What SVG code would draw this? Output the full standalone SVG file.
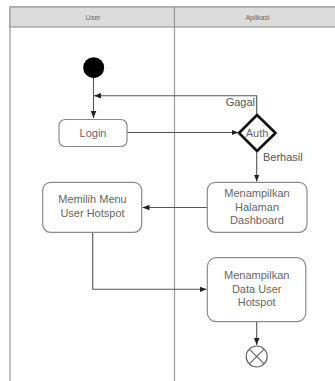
<svg xmlns="http://www.w3.org/2000/svg" width="335" height="381" viewBox="0 0 335 381">
<defs>
<marker id="ah" viewBox="0 0 10 10" refX="10" refY="5" markerWidth="7" markerHeight="7" orient="auto" markerUnits="userSpaceOnUse">
<path d="M0,1 L10,5 L0,9 z" fill="#222"/>
</marker>
<style>
.lane{fill:#fff;stroke:#9a9a9a;stroke-width:1.2}
.hdr{fill:#dcdcdc;stroke:#9a9a9a;stroke-width:1.2}
.ht{font-family:"Liberation Sans",Arial,sans-serif;font-size:7px;fill:#666;text-anchor:middle}
.box{fill:#fff;stroke:#8a8a8a;stroke-width:1.2}
.t{font-family:"Liberation Sans",Arial,sans-serif;font-size:11px;fill:#666;text-anchor:middle}
.lbl{font-family:"Liberation Sans",Arial,sans-serif;font-size:11px;fill:#555}
.c{fill:none;stroke:#555;stroke-width:1.1}
</style>
</defs>
<g id="lanes">
<rect class="lane" x="10" y="7" width="330" height="380"/>
<line x1="174.5" y1="7" x2="174.5" y2="381" stroke="#9a9a9a" stroke-width="1.2"/>
<rect class="hdr" x="10" y="7" width="164.5" height="20"/>
<rect class="hdr" x="174.5" y="7" width="165" height="20"/>
<text class="ht" x="93" y="19.5">User</text>
<text class="ht" x="257.5" y="19.5">Aplikasi</text>
</g>
<g id="connectors">
<path class="c" d="M93.5,78 V118" marker-end="url(#ah)"/>
<path class="c" d="M256.7,115 V95.7 H94" marker-end="url(#ah)"/>
<path class="c" d="M127,132.5 H238.5" marker-end="url(#ah)"/>
<path class="c" d="M256.7,151 V181.5" marker-end="url(#ah)"/>
<path class="c" d="M207,207.5 H142.5" marker-end="url(#ah)"/>
<path class="c" d="M92.7,232.5 V289.3 H206.5" marker-end="url(#ah)"/>
<path class="c" d="M256.7,322 V345" marker-end="url(#ah)"/>
<text class="lbl" x="255" y="106" text-anchor="end">Gagal</text>
<text class="lbl" x="263" y="161">Berhasil</text>
</g>
<g id="start"><circle cx="93.7" cy="67.7" r="10.5" fill="#000"/></g>
<g id="login"><rect class="box" x="59" y="119.5" width="68" height="27" rx="6"/><text class="t" x="93" y="136.5">Login</text></g>
<g id="auth"><polygon points="257,115 275.5,133 257,151 239,133" fill="#fff" stroke="#111" stroke-width="2.6" stroke-linejoin="round"/><text class="t" x="257" y="137">Auth</text></g>
<g id="dashboard"><rect class="box" x="207.3" y="182.3" width="99.7" height="50" rx="8"/><text class="t" x="257" y="197">Menampilkan</text><text class="t" x="257" y="210.5">Halaman</text><text class="t" x="257" y="223.5">Dashboard</text></g>
<g id="memilih"><rect class="box" x="42.7" y="182.3" width="99" height="50" rx="8"/><text class="t" x="92.5" y="203">Memilih Menu</text><text class="t" x="92.5" y="216.5">User Hotspot</text></g>
<g id="datauser"><rect class="box" x="207.3" y="257.7" width="98.5" height="64" rx="9"/><text class="t" x="256.7" y="279">Menampilkan</text><text class="t" x="256.7" y="293">Data User</text><text class="t" x="256.7" y="306">Hotspot</text></g>
<g id="end"><circle cx="256.7" cy="356.5" r="10.5" fill="#fff" stroke="#666" stroke-width="1.2"/><path d="M249.3,349.1 L264.1,363.9 M264.1,349.1 L249.3,363.9" stroke="#666" stroke-width="1.2"/></g>
</svg>
